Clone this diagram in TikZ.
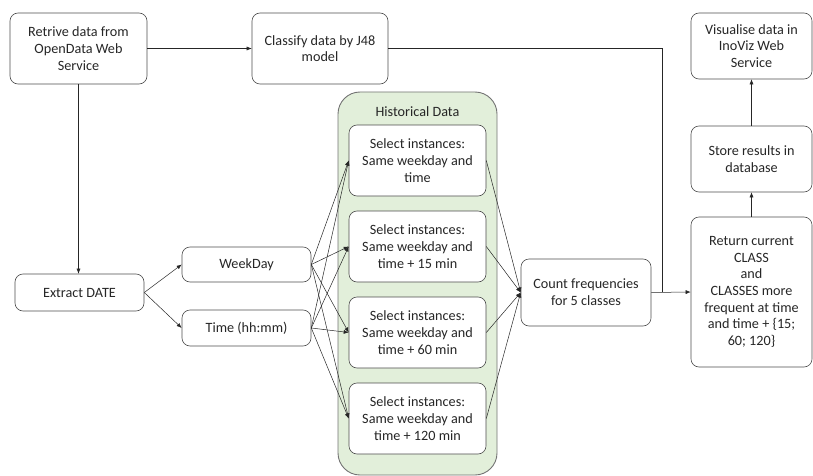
\documentclass[tikz,border=0pt]{standalone}
\usepackage{fontspec}
\setmainfont{Carlito}
\usetikzlibrary{arrows.meta}
\begin{document}
\begin{tikzpicture}[x=1pt,y=-1pt,
  font=\fontsize{14.2}{16.7}\selectfont,
  box/.style={draw=black!70, line width=0.6pt, rounded corners=8pt, align=center, inner sep=1pt, text=black!85},
  arr/.style={-{Latex[length=5pt,width=4pt]}, draw=black!85, line width=0.5pt},
  ln/.style={draw=black!85, line width=0.5pt}
]
\useasboundingbox (0,0) rectangle (813,476);
% container
\draw[fill={rgb,255:red,226;green,239;blue,218}, draw=black!55, line width=0.9pt, rounded corners=22pt] (338,92) rectangle (497,475);
\node[text=black!85] (hist) at (417.5,112) {Historical Data};

\node[box, minimum width=137pt, minimum height=71pt] (retrive) at (78.5,48.5) {Retrive data from\\OpenData Web\\Service};
\node[box, minimum width=136pt, minimum height=71pt] (classify) at (320,48.5) {Classify data by J48\\model};

\node[box, fill=white, minimum width=137pt, minimum height=71pt] (b1) at (417.5,160.5) {Select instances:\\Same weekday and\\time};
\node[box, fill=white, minimum width=137pt, minimum height=71pt] (b2) at (417.5,246.5) {Select instances:\\Same weekday and\\time + 15 min};
\node[box, fill=white, minimum width=137pt, minimum height=71pt] (b3) at (417.5,332.5) {Select instances:\\Same weekday and\\time + 60 min};
\node[box, fill=white, minimum width=137pt, minimum height=71pt] (b4) at (417.5,418.5) {Select instances:\\Same weekday and\\time + 120 min};

\node[box, minimum width=129pt, minimum height=37pt] (extract) at (79.5,292.5) {Extract DATE};
\node[box, minimum width=129pt, minimum height=35pt] (weekday) at (246.5,264.5) {WeekDay};
\node[box, minimum width=129pt, minimum height=36pt] (time) at (246.5,328) {Time (hh:mm)};

\node[box, minimum width=130pt, minimum height=67pt] (count) at (586,292.5) {Count frequencies\\for 5 classes};
\node[box, minimum width=121pt, minimum height=150pt] (return) at (751.5,292) {Return current\\CLASS\\and\\CLASSES more\\frequent at time\\and time + \{15;\\60; 120\}};
\node[box, minimum width=121pt, minimum height=66pt] (store) at (751.5,159) {Store results in\\database};
\node[box, minimum width=121pt, minimum height=66pt] (visual) at (751.5,46) {Visualise data in\\InoViz Web\\Service};

\coordinate (join) at (662,292);

\draw[arr] (retrive.east) -- (classify.west);
\draw[arr] (retrive.south) -- (retrive.south |- extract.north);
\draw[arr] (extract.east) -- (weekday.west);
\draw[arr] (extract.east) -- (time.west);
\foreach \s in {weekday,time}{
  \foreach \b in {b1,b2,b3,b4}{
    \draw[arr] (\s.east) -- (\b.west);
  }
}
\foreach \b in {b1,b2,b3,b4}{
  \draw[arr] (\b.east) -- (count.west);
}
\draw[ln] (classify.east) -| (join);
\draw[arr] (count.east) -- (return.west);
\draw[arr] (return.north) -- (store.south);
\draw[arr] (store.north) -- (visual.south);
\end{tikzpicture}
\end{document}
